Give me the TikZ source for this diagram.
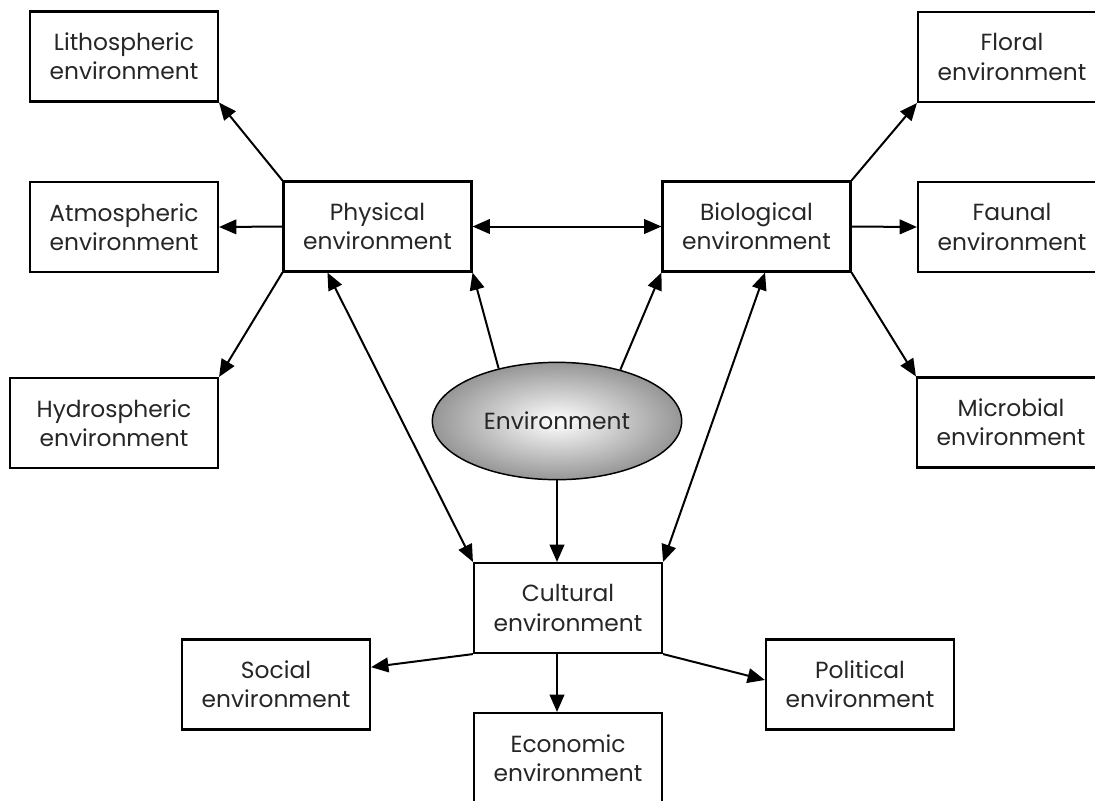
\documentclass[tikz,border=0pt]{standalone}
\usepackage{fontspec}
\setmainfont{Poppins}
\usetikzlibrary{shapes.geometric,arrows.meta,positioning,calc}
\definecolor{TextGrey}{HTML}{262626}
\definecolor{EllipseEdge}{HTML}{969696}
\tikzset{
  % Base box
  EB/.style={rectangle,draw,line width=1.6pt,
             minimum width=141pt,minimum height=67.5pt,
             text centered,align=center,text=TextGrey,
             font=\fontsize{17.5}{22}\selectfont},
  % Centre ellipse
  EL/.style={ellipse,draw,line width=1.1pt,
             minimum width=187pt,minimum height=88pt,inner sep=0pt,
             shading=radial,inner color=white,outer color=EllipseEdge,
             text=TextGrey,font=\fontsize{17.5}{22}\selectfont},
  % Arrows
  arr/.style={-{Triangle[length=13pt,width=11pt]},line width=1.5pt},
  darr/.style={{Triangle[length=13pt,width=11pt]}-{Triangle[length=13pt,width=11pt]},line width=1.5pt}
}
\begin{document}
\begin{tikzpicture}[x=0.75pt,y=-0.75pt]
  \clip (0,0) rectangle (1095,800);
  \fill[white] (0,0) rectangle (1095,800);

  % left column
  \node[EB]                        (lith) at (124,56.5) {Lithospheric\\ environment};
  \node[EB]                        (atm)  at (124,227)  {Atmospheric\\ environment};
  \node[EB,minimum width=156pt]    (hyd)  at (114,423)  {Hydrospheric\\ environment};
  % middle row
  \node[EB]                        (phys) at (377.5,226.5) {Physical\\ environment};
  \node[EB]                        (bio)  at (756.5,226.5) {Biological\\ environment};
  \node[EL]                        (env)  at (557,421)  {Environment};
  % right column
  \node[EB]                        (flo)  at (1012,57)  {Floral\\ environment};
  \node[EB]                        (fau)  at (1012,227) {Faunal\\ environment};
  \node[EB]                        (mic)  at (1011,422.5) {Microbial\\ environment};
  % bottom
  \node[EB]                        (cul)  at (568,608)  {Cultural\\ environment};
  \node[EB]                        (soc)  at (276,684.5) {Social\\ environment};
  \node[EB]                        (pol)  at (860,684.5) {Political\\ environment};
  \node[EB]                        (eco)  at (568,758)  {Economic\\ environment};

  \draw[arr](phys.north west)--(lith.south east);
  \draw[arr](phys.west)--(atm.east);
  \draw[arr](phys.south west)--(hyd.north east);
  \draw[darr](phys.east)--(bio.west);
  \draw[arr](bio.north east)--(flo.south west);
  \draw[arr](bio.east)--(fau.west);
  \draw[arr](bio.south east)--(mic.north west);

  \draw[arr](env.138)--(phys.south east);
  \draw[arr](env.39)--(bio.south west);
  \draw[darr]([xshift=33.75pt]phys.south west)--(cul.north west);
  \draw[darr]([xshift=6.4pt]bio.south)--(cul.north east);
  \draw[arr](env.south)--(env.south |- cul.north);

  \draw[arr](env.south |- cul.south)--(env.south |- eco.north);
  \draw[arr](cul.south west)--([yshift=13pt]soc.east);
  \draw[arr](cul.south east)--([yshift=3.4pt]pol.west);
\end{tikzpicture}
\end{document}
